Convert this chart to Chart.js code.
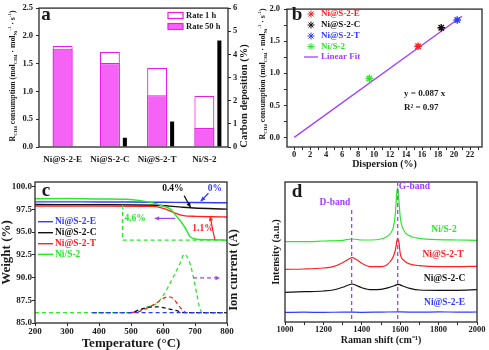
<!DOCTYPE html>
<html>
<head>
<meta charset="utf-8">
<script src="https://cdn.jsdelivr.net/npm/chart.js@4.4.1/dist/chart.umd.min.js"></script>
<style>
html, body { margin: 0; padding: 0; background: #fff; }
#wrap { position: relative; width: 489px; height: 350px; overflow: hidden; }
canvas { position: absolute; }
</style>
</head>
<body>
<div id="wrap">
  <canvas id="ca" width="250" height="175" style="left:0px;top:0px"></canvas>
  <canvas id="cb" width="239" height="175" style="left:250px;top:0px"></canvas>
  <canvas id="cc" width="245" height="175" style="left:0px;top:175px"></canvas>
  <canvas id="cd" width="239" height="175" style="left:250px;top:175px"></canvas>
</div>
<script>
// ---- panel a: rates and carbon deposition
const catalysts = ['Ni@S-2-E', 'Ni@S-2-C', 'Ni@S-2-T', 'Ni/S-2'];
const rate1h = [1.82, 1.71, 1.42, 0.92];
const rate50h = [1.77, 1.51, 0.93, 0.34];
const carbonDep = [0, 0.4, 1.1, 4.6];

// ---- panel b: rate vs dispersion
const dispersion = [15.5, 18.4, 20.4, 9.4];
const rateB = [1.42, 1.71, 1.83, 0.92];
const fitX = [0, 21];
const fitY = [0, 1.89];

// ---- panel c: TG weight (%) and ion current (relative)
const tempE = [200, 300, 400, 500, 600, 700, 800];
const weightE = [98.32, 98.32, 98.3, 98.3, 98.27, 98.24, 98.22];
const tempC = [200, 400, 580, 620, 650, 686, 740, 800];
const weightC = [98.02, 98.0, 97.95, 97.85, 97.77, 97.67, 97.58, 97.52];
const tempT = [200, 400, 569, 601, 632, 663, 705, 750, 800];
const weightT = [97.86, 97.85, 97.82, 97.6, 97.17, 96.8, 96.72, 96.68, 96.66];
const tempG = [200, 300, 400, 486, 530, 580, 600, 622, 643, 663, 675, 684, 695, 705, 750, 800];
const weightG = [98.66, 98.7, 98.63, 98.6, 98.45, 98.1, 97.85, 97.55, 96.7, 95.8, 95.1, 94.5, 94.3, 94.2, 94.15, 94.1];

const ionTempG = [200, 500, 520, 550, 580, 601, 632, 653, 666, 680, 695, 705, 714, 722, 800];
const ionG = [0, 0, 0.15, 0.6, 1.0, 1.9, 3.9, 5.4, 6.4, 5.8, 3.9, 2.1, 0.6, 0, 0];
const ionTempT = [500, 520, 549, 580, 601, 617, 632, 648, 663, 672, 800];
const ionT = [0, 0.05, 0.45, 1.05, 1.55, 1.72, 1.55, 0.8, 0.2, 0, 0];
const ionTempC = [380, 500, 528, 559, 585, 612, 643, 663, 800];
const ionC = [0, 0, 0.33, 0.6, 0.62, 0.45, 0.2, 0, 0];
const ionTempE = [380, 800];
const ionE = [0, 0];

// ---- panel d: Raman spectra (a.u.)
const shiftE = [1000, 1100, 1200, 1300, 1400, 1500, 1600, 1700, 1800, 1900, 2000];
const intE = [9.6, 9.8, 9.6, 9.9, 9.7, 9.9, 10.1, 9.8, 10.1, 9.9, 10.0];
const shiftC = [1000, 1100, 1200, 1250, 1300, 1330, 1350, 1370, 1400, 1450, 1500, 1540, 1570, 1590, 1610, 1650, 1700, 1800, 1900, 2000];
const intC = [29.7, 30.3, 31, 32, 34.7, 37, 38, 36.7, 34.3, 32.3, 32.7, 34.3, 36.3, 37.7, 36.3, 33.7, 32, 31.7, 31.7, 32.3];
const shiftT = [1000, 1100, 1200, 1250, 1300, 1330, 1350, 1370, 1400, 1450, 1500, 1530, 1560, 1575, 1586, 1593, 1600, 1620, 1650, 1700, 1800, 1900, 2000];
const intT = [52.7, 53, 54, 55.3, 59.3, 62.7, 64.3, 62.7, 58.7, 55.3, 55.3, 57, 63.7, 72, 83.7, 80.3, 68.7, 61.3, 58, 56.3, 55.3, 55.3, 55.7];
const shiftG = [1000, 1100, 1200, 1300, 1350, 1400, 1450, 1500, 1530, 1550, 1565, 1575, 1582, 1587, 1592, 1600, 1610, 1630, 1660, 1700, 1800, 1900, 2000];
const intG = [80.3, 80.3, 81, 81.7, 83, 82, 82, 83, 85.3, 88.7, 95.3, 108.7, 128.7, 134.3, 125.3, 105.3, 95.3, 88.7, 85.3, 83.7, 82.3, 82, 81.7];
const bandPos = [1347, 1587];

const SERIF = '"Liberation Serif", "Times New Roman", serif';
const AX = '#2a2a2a';
const TXT = '#1a1a1a';
const PINK = '#f562f5';
const MAGENTA = '#e61ee6';
const PURPLE = '#a040ff';
const RED = '#ff2020';
const BLUE = '#2f3cff';
const GREEN = '#2be82b';
const BLACK = '#111111';
const seriesColors = [RED, BLACK, BLUE, GREEN];

Chart.defaults.font.family = SERIF;
Chart.defaults.font.weight = 'bold';
Chart.defaults.color = TXT;
Chart.defaults.animation = false;
Chart.defaults.plugins.legend.display = false;
Chart.defaults.plugins.tooltip.enabled = false;

const tickGrid = { drawOnChartArea: false, tickLength: 3, color: AX, lineWidth: 1 };
const noGrid = { display: false, drawTicks: false };
const noBorder = { display: false };
const pts = (xs, ys) => xs.map((x, i) => ({ x: x, y: ys[i] }));

// box round the plot area
const frame = {
  id: 'frame',
  afterDatasetsDraw(chart) {
    const { ctx, chartArea: a } = chart;
    ctx.save();
    ctx.strokeStyle = AX;
    ctx.lineWidth = 1.3;
    ctx.strokeRect(a.left, a.top, a.right - a.left, a.bottom - a.top);
    ctx.restore();
  }
};

function text(ctx, str, x, y, size, color, align) {
  ctx.save();
  ctx.font = 'bold ' + size + 'px ' + SERIF;
  ctx.fillStyle = color || TXT;
  ctx.textAlign = align || 'center';
  ctx.textBaseline = 'middle';
  ctx.fillText(str, x, y);
  ctx.restore();
}

// text with sub (1) and superscript (2) parts, centred on x,y
function rich(ctx, parts, x, y, size, rot) {
  ctx.save();
  ctx.translate(x, y);
  ctx.rotate(rot || 0);
  ctx.fillStyle = TXT;
  ctx.textBaseline = 'middle';
  ctx.textAlign = 'left';
  const fnt = m => 'bold ' + (m ? size * 0.62 : size) + 'px ' + SERIF;
  let w = 0;
  parts.forEach(p => { ctx.font = fnt(p[1]); w += ctx.measureText(p[0]).width; });
  let cx = -w / 2;
  parts.forEach(p => {
    ctx.font = fnt(p[1]);
    const dy = p[1] === 1 ? size * 0.3 : (p[1] === 2 ? -size * 0.38 : 0);
    ctx.fillText(p[0], cx, dy);
    cx += ctx.measureText(p[0]).width;
  });
  ctx.restore();
}

function seg(ctx, x1, y1, x2, y2, color, dash, width) {
  ctx.save();
  ctx.strokeStyle = color;
  ctx.lineWidth = width || 1.2;
  if (dash) ctx.setLineDash(dash);
  ctx.beginPath();
  ctx.moveTo(x1, y1);
  ctx.lineTo(x2, y2);
  ctx.stroke();
  ctx.restore();
}

function arrow(ctx, p1, p2, color, dash) {
  seg(ctx, p1[0], p1[1], p2[0], p2[1], color, dash);
  const a = Math.atan2(p2[1] - p1[1], p2[0] - p1[0]), h = 5;
  ctx.save();
  ctx.fillStyle = color;
  ctx.beginPath();
  ctx.moveTo(p2[0], p2[1]);
  ctx.lineTo(p2[0] - h * Math.cos(a - 0.45), p2[1] - h * Math.sin(a - 0.45));
  ctx.lineTo(p2[0] - h * Math.cos(a + 0.45), p2[1] - h * Math.sin(a + 0.45));
  ctx.closePath();
  ctx.fill();
  ctx.restore();
}

const rateTitle = [['R', 0], ['CH4', 1], [' consumption (mol', 0], ['CH4', 1], [' \u00b7 mol', 0],
  ['Ni', 1], ['-1', 2], [' \u00b7 s', 0], ['-1', 2], [')', 0]];

// ================= panel a
const panelA = {
  id: 'panelA',
  afterDraw(chart) {
    const ctx = chart.ctx;
    rich(ctx, rateTitle, 13, 76, 7.8, -Math.PI / 2);
    text(ctx, 'a', 46, 15, 19);
    ctx.save();
    ctx.translate(244, 96);
    ctx.rotate(-Math.PI / 2);
    text(ctx, 'Carbon deposition (%)', 0, 0, 10.5);
    ctx.restore();
    // legend
    ctx.save();
    ctx.lineWidth = 1.2;
    ctx.strokeStyle = MAGENTA;
    ctx.fillStyle = '#fff';
    ctx.fillRect(168, 12.5, 15, 6);
    ctx.strokeRect(168, 12.5, 15, 6);
    ctx.fillStyle = PINK;
    ctx.fillRect(168, 23.5, 15, 6);
    ctx.strokeRect(168, 23.5, 15, 6);
    ctx.restore();
    text(ctx, 'Rate 1 h', 186, 15.5, 8.5, TXT, 'left');
    text(ctx, 'Rate 50 h', 186, 26.5, 8.5, TXT, 'left');
  }
};

new Chart(document.getElementById('ca'), {
  type: 'bar',
  data: {
    labels: catalysts,
    datasets: [
      { label: 'spacer', data: [], stack: 'pad' },
      { label: 'Rate 50 h', data: rate50h, stack: 'rate', backgroundColor: PINK, borderColor: MAGENTA, borderWidth: 1.2, barPercentage: 1.33 },
      { label: 'Rate 1 h', data: rate1h, stack: 'rate', backgroundColor: '#ffffff', borderColor: MAGENTA, borderWidth: 1.2, barPercentage: 1.33 },
      { label: 'Carbon deposition', data: carbonDep, stack: 'carbon', yAxisID: 'y2', backgroundColor: '#000000', barPercentage: 0.27 }
    ]
  },
  options: {
    responsive: false,
    devicePixelRatio: 1,
    layout: { padding: { top: 6 } },
    datasets: { bar: { categoryPercentage: 0.952 } },
    scales: {
      x: {
        grid: noGrid, border: noBorder,
        ticks: { font: { size: 9 }, color: TXT, padding: 7.6, maxRotation: 0 },
        afterFit: s => { s.height = 28; }
      },
      y: {
        min: 0, max: 2.5, stacked: false,
        grid: tickGrid, border: noBorder,
        ticks: { stepSize: 0.5, font: { size: 8.5 }, color: TXT, padding: 3, callback: v => v.toFixed(1) },
        afterFit: s => { s.width = 39; }
      },
      y2: {
        position: 'right', min: 0, max: 6, stacked: false,
        grid: tickGrid, border: noBorder,
        ticks: { stepSize: 1, font: { size: 8.5 }, color: TXT, padding: 2 },
        afterFit: s => { s.width = 22; }
      }
    }
  },
  plugins: [frame, panelA]
});

// ================= panel b
const panelB = {
  id: 'panelB',
  afterDraw(chart) {
    const ctx = chart.ctx;
    rich(ctx, rateTitle, 13, 74, 7.8, -Math.PI / 2);
    text(ctx, 'b', 47, 15, 19);
    const ys = [14, 25, 36, 46.5];
    catalysts.forEach((c, i) => {
      ctx.save();
      ctx.strokeStyle = seriesColors[i];
      Chart.helpers.drawPoint(ctx, { pointStyle: 'star', radius: 3.5, borderWidth: 1.3, rotation: 0 }, 61, ys[i]);
      ctx.restore();
      text(ctx, c, 71, ys[i], 9, seriesColors[i], 'left');
    });
    seg(ctx, 54, 57, 68, 57, PURPLE, null, 1.3);
    text(ctx, 'Linear Fit', 71, 57, 9, PURPLE, 'left');
    text(ctx, 'y = 0.087 x', 154, 94, 9, TXT, 'left');
    text(ctx, 'R\u00b2 = 0.97', 154, 108, 9, TXT, 'left');
  }
};

new Chart(document.getElementById('cb'), {
  type: 'scatter',
  data: {
    datasets: catalysts.map((c, i) => ({
      label: c,
      data: [{ x: dispersion[i], y: rateB[i] }],
      pointStyle: 'star', pointRadius: 3.8, pointBorderWidth: 1.4,
      borderColor: seriesColors[i], backgroundColor: seriesColors[i]
    })).concat([{
      label: 'Linear Fit', type: 'line', data: pts(fitX, fitY),
      borderColor: PURPLE, borderWidth: 1.3, pointRadius: 0, showLine: true
    }])
  },
  options: {
    responsive: false,
    devicePixelRatio: 1,
    layout: { padding: { top: 5, right: 7 } },
    scales: {
      x: {
        type: 'linear', min: -0.9, max: 23.5,
        grid: tickGrid, border: noBorder,
        ticks: { stepSize: 1, includeBounds: false, autoSkip: false, maxRotation: 0, font: { size: 8.5 }, color: TXT, padding: 0,
          callback: v => (v % 2 === 0 ? String(v) : '') },
        title: { display: true, text: 'Dispersion (%)', font: { size: 10, lineHeight: 1 }, color: TXT, padding: { top: 0, bottom: 6 } },
        afterFit: s => { s.height = 28; }
      },
      y: {
        min: -0.15, max: 2.0,
        grid: tickGrid, border: noBorder,
        ticks: { stepSize: 0.25, includeBounds: false, autoSkip: false, font: { size: 8.5 }, color: TXT, padding: 4,
          callback: v => (Math.abs(v * 2 - Math.round(v * 2)) < 1e-6 ? v.toFixed(1) : '') },
        afterFit: s => { s.width = 37; }
      }
    }
  },
  plugins: [frame, panelB]
});

// ================= panel c
const panelC = {
  id: 'panelC',
  afterDraw(chart) {
    const ctx = chart.ctx;
    const sx = chart.scales.x, sy = chart.scales.y;
    const P = (t, w) => [sx.getPixelForValue(t), sy.getPixelForValue(w)];
    text(ctx, 'c', 46, 16, 19);
    ctx.save();
    ctx.translate(234, 95);
    ctx.rotate(-Math.PI / 2);
    text(ctx, 'Ion current (A)', 0, 0, 12.5);
    ctx.restore();
    // legend
    const names = ['Ni@S-2-E', 'Ni@S-2-C', 'Ni@S-2-T', 'Ni/S-2'];
    const cols = [BLUE, BLACK, RED, GREEN];
    const ys = [46.7, 57.7, 68.7, 79.3];
    names.forEach((n, i) => {
      seg(ctx, 38, ys[i], 53, ys[i], cols[i], null, 1.4);
      text(ctx, n, 55, ys[i], 9.5, cols[i], 'left');
    });
    // annotations
    let p = P(631, 99.73); text(ctx, '0.4%', p[0], p[1], 9.5, BLACK);
    arrow(ctx, P(666, 99.0), P(686, 97.72), BLACK);
    p = P(762, 99.8); text(ctx, '0%', p[0], p[1], 9.5, BLUE);
    arrow(ctx, P(742, 99.26), P(718, 98.38), BLUE);
    p = P(513, 96.5); text(ctx, '4.6%', p[0], p[1], 9.5, GREEN);
    const a1 = P(474, 97.97), a2 = P(474, 94.12), a3 = P(800, 94.12);
    seg(ctx, a1[0], a1[1], a2[0], a2[1], GREEN, [4, 3], 1.3);
    seg(ctx, a2[0], a2[1], a3[0], a3[1], GREEN, [4, 3], 1.3);
    arrow(ctx, P(638, 96.5), P(574, 96.5), PURPLE);
    p = P(725, 95.4); text(ctx, '1.1%', p[0], p[1], 9.5, RED);
    arrow(ctx, P(762, 94.15), P(747, 96.72), RED);
    arrow(ctx, P(694, 89.95), P(778, 89.95), PURPLE, [4, 3]);
  }
};

const solid = (label, xs, ys, color) => ({ label: label, data: pts(xs, ys), borderColor: color, borderWidth: 1.4, pointRadius: 0, cubicInterpolationMode: 'monotone' });
const dashed = (label, xs, ys, color) => ({ label: label, data: pts(xs, ys), yAxisID: 'y2', borderColor: color, borderWidth: 1.3, borderDash: [4, 3], pointRadius: 0, cubicInterpolationMode: 'monotone' });

new Chart(document.getElementById('cc'), {
  type: 'line',
  data: {
    datasets: [
      solid('Ni/S-2', tempG, weightG, GREEN),
      solid('Ni@S-2-T', tempT, weightT, RED),
      solid('Ni@S-2-C', tempC, weightC, BLACK),
      solid('Ni@S-2-E', tempE, weightE, BLUE),
      dashed('Ni@S-2-E ion', ionTempE, ionE, BLUE),
      dashed('Ni@S-2-C ion', ionTempC, ionC, BLACK),
      dashed('Ni@S-2-T ion', ionTempT, ionT, RED),
      dashed('Ni/S-2 ion', ionTempG, ionG, GREEN)
    ]
  },
  options: {
    responsive: false,
    devicePixelRatio: 1,
    layout: { padding: { top: 7 } },
    scales: {
      x: {
        type: 'linear', min: 200, max: 800,
        grid: tickGrid, border: noBorder,
        ticks: { stepSize: 100, font: { size: 9 }, color: TXT, padding: 0.3, maxRotation: 0 },
        title: { display: true, text: 'Temperature (\u00b0C)', font: { size: 13, lineHeight: 1 }, color: TXT, padding: { top: 0, bottom: 0.2 } },
        afterFit: s => { s.height = 27; }
      },
      y: {
        min: 85, max: 100.5,
        grid: tickGrid, border: noBorder,
        ticks: { stepSize: 2.5, includeBounds: false, font: { size: 9 }, color: TXT, padding: 0, callback: v => v.toFixed(1) },
        title: { display: true, text: 'Weight (%)', font: { size: 13, lineHeight: 1 }, color: TXT, padding: { top: 0.5, bottom: 0 } },
        afterFit: s => { s.width = 35; }
      },
      y2: {
        position: 'right', min: -1.15, max: 14.35,
        grid: noGrid, border: noBorder,
        ticks: { display: false },
        afterFit: s => { s.width = 18; }
      }
    }
  },
  plugins: [frame, panelC]
});

// ================= panel d
const panelD = {
  id: 'panelD',
  afterDraw(chart) {
    const ctx = chart.ctx;
    const sx = chart.scales.x, sy = chart.scales.y;
    const P = (k, v) => [sx.getPixelForValue(k), sy.getPixelForValue(v)];
    text(ctx, 'd', 47, 17, 19);
    let a = P(bandPos[0], 112), b = P(bandPos[0], 0);
    seg(ctx, a[0], a[1], b[0], b[1], PURPLE, [4, 3], 1.3);
    a = P(bandPos[1], 140); b = P(bandPos[1], 0);
    seg(ctx, a[0], a[1], b[0], b[1], PURPLE, [4, 3], 1.3);
    let p = P(1260, 119); text(ctx, 'D-band', p[0], p[1], 9.5, PURPLE);
    p = P(1674, 135); text(ctx, 'G-band', p[0], p[1], 9.5, PURPLE);
    p = P(1828, 92); text(ctx, 'Ni/S-2', p[0], p[1], 9.5, GREEN);
    p = P(1823, 67); text(ctx, 'Ni@S-2-T', p[0], p[1], 9.5, RED);
    p = P(1831, 43); text(ctx, 'Ni@S-2-C', p[0], p[1], 9.5, BLACK);
    p = P(1831, 19); text(ctx, 'Ni@S-2-E', p[0], p[1], 9.5, BLUE);
  }
};

const spec = (label, xs, ys, color) => ({ label: label, data: pts(xs, ys), borderColor: color, borderWidth: 1.2, pointRadius: 0, cubicInterpolationMode: 'monotone' });

new Chart(document.getElementById('cd'), {
  type: 'line',
  data: {
    datasets: [
      spec('Ni/S-2', shiftG, intG, GREEN),
      spec('Ni@S-2-T', shiftT, intT, RED),
      spec('Ni@S-2-C', shiftC, intC, BLACK),
      spec('Ni@S-2-E', shiftE, intE, BLUE)
    ]
  },
  options: {
    responsive: false,
    devicePixelRatio: 1,
    layout: { padding: { top: 7, right: 12 } },
    scales: {
      x: {
        type: 'linear', min: 1000, max: 2000,
        grid: tickGrid, border: noBorder,
        ticks: { stepSize: 100, autoSkip: false, maxRotation: 0, font: { size: 8.5 }, color: TXT, padding: 0,
          callback: v => (v % 200 === 0 ? String(v) : '') },
        title: { display: true, text: 'Raman shift (cm\u207b\u00b9)', font: { size: 10, lineHeight: 1 }, color: TXT, padding: { top: 0, bottom: 5 } },
        afterFit: s => { s.height = 28; }
      },
      y: {
        min: 0, max: 140,
        grid: noGrid, border: noBorder,
        ticks: { display: false },
        title: { display: true, text: 'Intensity (a.u.)', font: { size: 10.5, lineHeight: 1 }, color: TXT, padding: { top: 21.5, bottom: 0 } },
        afterFit: s => { s.width = 35; }
      }
    }
  },
  plugins: [frame, panelD]
});
</script>
</body>
</html>
